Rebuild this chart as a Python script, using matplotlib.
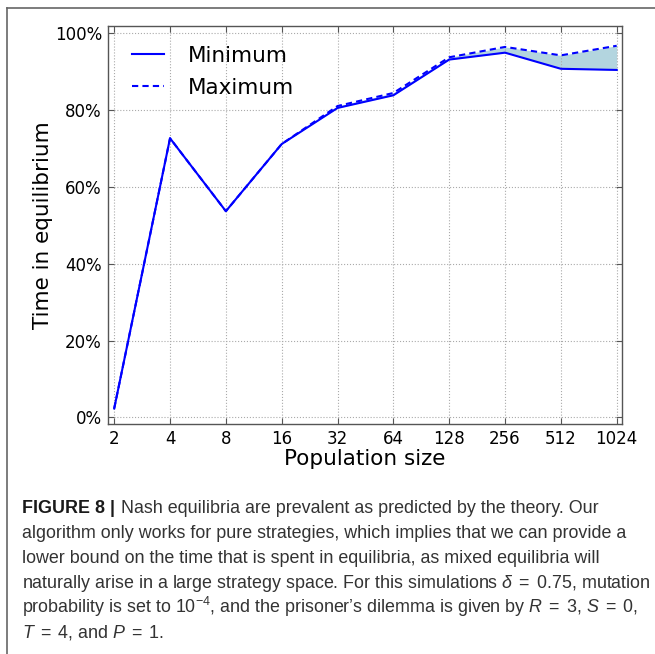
from matplotlib import pyplot as plt
from matplotlib.lines import Line2D
from matplotlib.ticker import PercentFormatter, FixedLocator, FixedFormatter

#   DATA
population_sizes = [2, 4, 8, 16, 32, 64, 128, 256, 512, 1024]
size_labels = ['2', '4', '8', '16', '32', '64', '128', '256', '512', '1024']
time_minimum = [0.023, 0.727, 0.537, 0.712, 0.806, 0.839, 0.932, 0.950, 0.908, 0.905]
time_maximum = [0.023, 0.727, 0.537, 0.712, 0.811, 0.845, 0.938, 0.965, 0.943, 0.968]
percent_ticks = [0.0, 0.2, 0.4, 0.6, 0.8, 1.0]

caption_head = 'FIGURE 8 |'
caption_first = ' Nash equilibria are prevalent as predicted by the theory. Our'
caption_lines = [
    'algorithm only works for pure strategies, which implies that we can provide a',
    'lower bound on the time that is spent in equilibria, as mixed equilibria will',
    r'naturally arise in a large strategy space. For this simulations $\delta\;=\;0.75$, mutation',
    r'probability is set to $10^{-4}$, and the prisoner’s dilemma is given by $R\;=\;3$, $S\;=\;0$,',
    r'$T\;=\;4$, and $P\;=\;1$.',
]

plt.rcParams['mathtext.fontset'] = 'custom'
plt.rcParams['mathtext.rm'] = 'Liberation Sans'
plt.rcParams['mathtext.it'] = 'Liberation Sans:italic'
plt.rcParams['mathtext.bf'] = 'Liberation Sans:bold'

W, H = 655, 654
figure = plt.figure(figsize=(W / 100, H / 100), dpi=100)
axes = figure.add_axes([107.5 / W, 1 - 424 / H, 514.5 / W, 398 / H])

#   THE SHADED GAP BETWEEN MIN AND MAX
axes.fill_between(population_sizes, time_minimum, time_maximum, color='#b3d5df', lw=0)
axes.plot(population_sizes, time_minimum, color='#0000ff', lw=1.5, label='Minimum')
axes.plot(population_sizes, time_maximum, color='#0000ff', lw=1.5, ls=(0, (3, 2)), label='Maximum')

axes.set_xscale('log', base=2)
axes.set_xlim(2 ** 0.88, 2 ** 10.095)
axes.set_ylim(-0.0175, 1.0195)
axes.xaxis.set_major_locator(FixedLocator(population_sizes))
axes.xaxis.set_major_formatter(FixedFormatter(size_labels))
axes.xaxis.set_minor_locator(FixedLocator([]))
axes.yaxis.set_major_locator(FixedLocator(percent_ticks))
axes.yaxis.set_major_formatter(PercentFormatter(1.0, decimals=0))

axes.grid(True, color='#aaaaaa', ls=':', lw=0.8)
axes.tick_params(direction='in', length=4, width=0.8, color='#555555',
                 labelsize=12, top=True, right=True, pad=4)
for spine in axes.spines.values():
    spine.set_color('#555555')
    spine.set_linewidth(1.0)

axes.set_xlabel('Population size', fontsize=15.5, labelpad=1)
axes.set_ylabel('Time in equilibrium', fontsize=15.5, labelpad=1)

axes.legend(loc='upper left', bbox_to_anchor=(0.048, 0.95), frameon=False,
            fontsize=15.5, borderpad=0, borderaxespad=0, handlelength=1.5,
            handletextpad=1.1, labelspacing=0.55)

#   PAGE FRAME LINES
figure.add_artist(Line2D([7 / W, 7 / W], [0, 1 - 8 / H], color='#666666', lw=1.2))
figure.add_artist(Line2D([7 / W, 1], [1 - 8 / H, 1 - 8 / H], color='#666666', lw=1.2))

#   CAPTION
caption_x = 22.5 / W
first_baseline = 513
line_step = 25
caption_size = 12.9
bold_part = figure.text(caption_x, 1 - first_baseline / H, caption_head, fontsize=caption_size,
                        family='Liberation Sans', weight='bold', color='#1a1a1a', va='baseline')
figure.canvas.draw()
bold_box = bold_part.get_window_extent()
figure.text(bold_box.x1 / W, 1 - first_baseline / H, caption_first, fontsize=caption_size,
            family='Liberation Sans', color='#333333', va='baseline')
for counter, line in enumerate(caption_lines):
    figure.text(caption_x, 1 - (first_baseline + line_step * (counter + 1)) / H, line,
                fontsize=caption_size, family='Liberation Sans', color='#333333', va='baseline')

figure.savefig('out.png', dpi=100)
